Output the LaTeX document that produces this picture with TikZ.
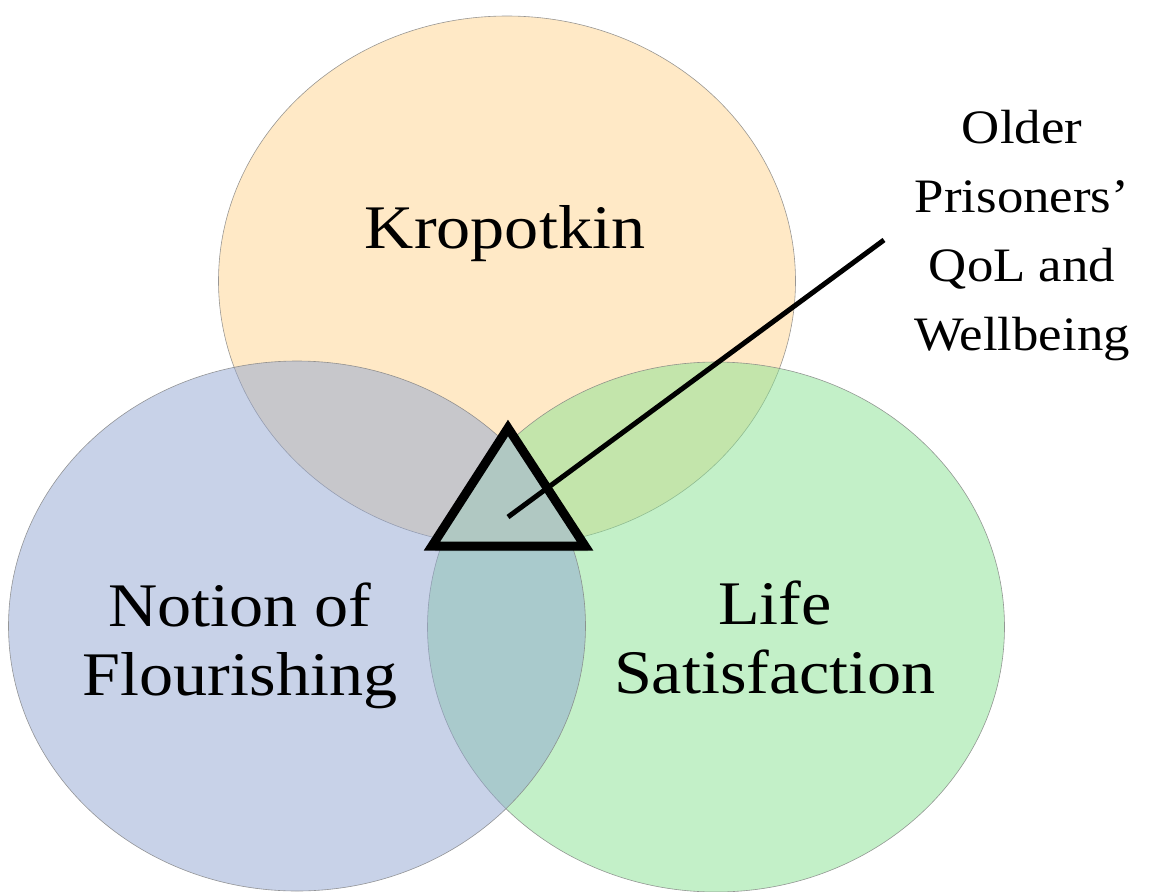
\documentclass[tikz,border=0pt]{standalone}
\usepackage{fontspec}
\setmainfont{Liberation Serif}[FakeStretch=1.1]
\usetikzlibrary{shapes.geometric}
\definecolor{peachfill}{RGB}{255,211,141}
\definecolor{greenfill}{RGB}{135,225,145}
\definecolor{bluefill}{RGB}{145,165,209}
\definecolor{trifill}{RGB}{176,200,194}
\begin{document}
\begin{tikzpicture}[x=1pt,y=-1pt,
	venn/.style={ellipse,draw=gray,line width=0.6pt,draw opacity=0.8,fill opacity=0.5,
		minimum width=577pt,minimum height=530pt,inner sep=0pt},
	vennlabel/.style={align=center,font=\fontsize{62}{69}\selectfont},
	calloutlabel/.style={align=center,font=\fontsize{48}{69}\selectfont}]
	\useasboundingbox (0,0) rectangle (1152,892);
	\clip (0,0) rectangle (1152,892);

	\node[venn,fill=peachfill] (kropotkin) at (507,281) {};
	\node[venn,fill=greenfill] (life) at (716,627) {};
	\node[venn,fill=bluefill] (flourishing) at (297,626) {};

	\node[vennlabel,anchor=base] (kropotkin text) at (505,248) {Kropotkin};
	\node[vennlabel] (flourishing text) at (240,646) {Notion of\\Flourishing};
	\node[vennlabel] (life text) at (775,637) {Life\\Satisfaction};

	\coordinate (apex) at (508,428);
	\coordinate (base left) at (432,546);
	\coordinate (base right) at (585,546);
	\fill[black,opacity=0.25] ([shift={(3,5)}]apex) -- ([shift={(3,5)}]base left) -- ([shift={(3,5)}]base right) -- cycle;
	\draw[line width=9pt,line join=miter,fill=trifill] (apex) -- (base left) -- (base right) -- cycle;

	\coordinate (hub) at (508,517);
	\coordinate (callout) at (884,240);
	\draw[line width=5pt] (hub) -- (callout);

	\node[calloutlabel] (qol text) at (1022,236) {Older\\Prisoners'\\QoL and\\Wellbeing};
\end{tikzpicture}
\end{document}
